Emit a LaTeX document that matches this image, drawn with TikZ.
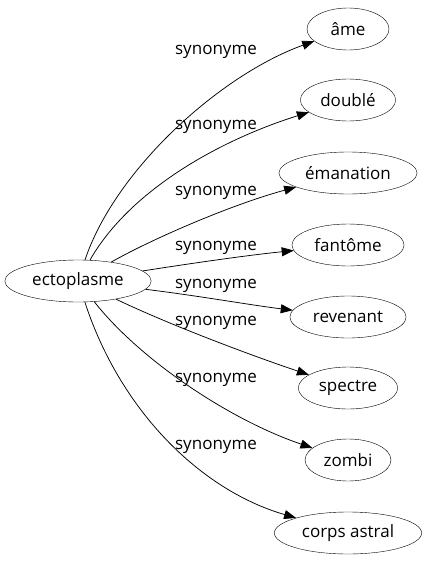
\documentclass[tikz,border=0pt]{standalone}
\usepackage{fontspec}
\setmainfont{Open Sans}
\usetikzlibrary{arrows.meta,shapes.geometric}
\tikzset{
 word/.style={draw,ellipse,inner xsep=6pt,minimum height=42pt,minimum width=82pt,font=\fontsize{17}{19}\selectfont},
 rel/.style={font=\fontsize{17}{19}\selectfont,inner sep=1pt},
 syn/.style={-{Triangle[length=12pt,width=9pt]},line width=0.75pt}
}
\begin{document}
\begin{tikzpicture}[x=1pt,y=-1pt]
 \useasboundingbox (0,0) rectangle (428,563);
 \node[word] (ecto) at (78,281) {ectoplasme};
 \node[word] (ame) at (348,29) {âme};
 \node[word] (double) at (348,100) {doublé};
 \node[word] (emanation) at (348,173) {émanation};
 \node[word] (fantome) at (348,245) {fantôme};
 \node[word] (revenant) at (348,317) {revenant};
 \node[word] (spectre) at (348,388) {spectre};
 \node[word] (zombi) at (348,460) {zombi};
 \node[word] (corps) at (348,533) {corps astral};
 % edges
 \draw[syn] (ecto) .. controls (115,170) and (220,75) .. (ame);
 \draw[syn] (ecto) .. controls (130,190) and (220,140) .. (double);
 \draw[syn] (ecto) .. controls (150,240) and (230,205) .. (emanation);
 \draw[syn] (ecto) .. controls (200,262) and (250,255) .. (fantome);
 \draw[syn] (ecto) .. controls (200,296) and (250,305) .. (revenant);
 \draw[syn] (ecto) .. controls (170,325) and (250,355) .. (spectre);
 \draw[syn] (ecto) .. controls (140,360) and (230,420) .. (zombi);
 \draw[syn] (ecto) .. controls (120,410) and (200,490) .. (corps);
 % labels
 \node[rel] (l1) at (216,52) {synonyme};
 \node[rel] (l2) at (216,127) {synonyme};
 \node[rel] (l3) at (216,193) {synonyme};
 \node[rel] (l4) at (216,248) {synonyme};
 \node[rel] (l5) at (216,286) {synonyme};
 \node[rel] (l6) at (216,323) {synonyme};
 \node[rel] (l7) at (216,380) {synonyme};
 \node[rel] (l8) at (216,447) {synonyme};
\end{tikzpicture}
\end{document}
